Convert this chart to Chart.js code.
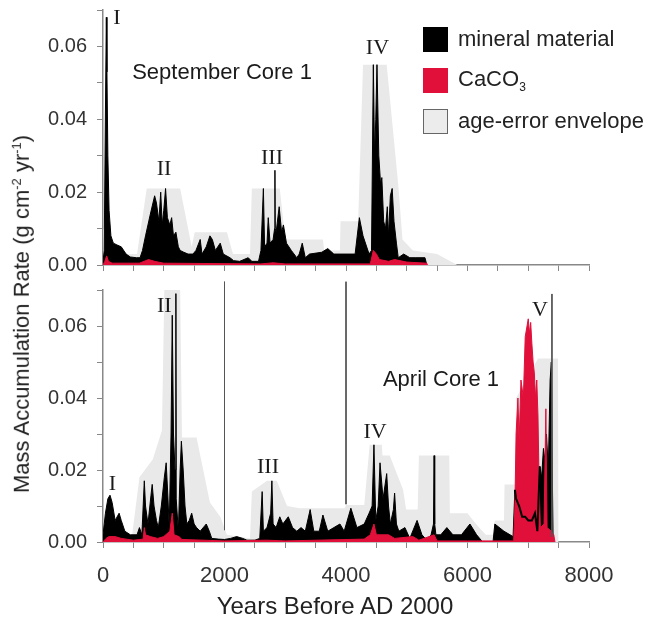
<!DOCTYPE html>
<html>
<head>
<meta charset="utf-8">
<script src="https://cdn.jsdelivr.net/npm/chart.js@4/dist/chart.umd.min.js"></script>
<style>
  body { margin: 0; background: #fff; }
  #wrap { position: relative; width: 645px; height: 617px; overflow: hidden; font-family: 'Liberation Sans', Arial, sans-serif; color: #222; }
  canvas { position: absolute; left: 0; }
  #topChart { top: -10px; }
  #bottomChart { top: 270px; }
  .ytitle { position: absolute; left: 22px; top: 314px; transform: translate(-50%, -50%) rotate(-90deg); white-space: nowrap; font-size: 22px; }
  .xtitle { position: absolute; left: 335px; top: 606px; transform: translate(-50%, -50%); white-space: nowrap; font-size: 24px; }
  .ytitle sup { font-size: 13px; }
  .legend { position: absolute; left: 423px; top: 27px; }
  .legend .row { position: relative; height: 41px; }
  .legend .box { position: absolute; left: 0; top: 0; width: 25px; height: 25px; box-sizing: border-box; }
  .legend .txt { position: absolute; left: 35px; top: 12px; transform: translateY(-50%); font-size: 22px; white-space: nowrap; }
  .legend sub { font-size: 12px; }
</style>
</head>
<body>
<div id="wrap">
  <canvas id="topChart" width="645" height="295"></canvas>
  <canvas id="bottomChart" width="645" height="347"></canvas>
  <div class="ytitle">Mass Accumulation Rate (g cm<sup>-2</sup> yr<sup>-1</sup>)</div>
  <div class="xtitle">Years Before AD 2000</div>
  <div class="legend">
    <div class="row"><div class="box" style="background:#000"></div><div class="txt">mineral material</div></div>
    <div class="row"><div class="box" style="background:#e0103a"></div><div class="txt">CaCO<sub>3</sub></div></div>
    <div class="row"><div class="box" style="background:#ececec;border:1px solid #666"></div><div class="txt">age-error envelope</div></div>
  </div>
</div>
<script>
// September Core 1 - mineral material
const sepMineralYears = [
  0, 20, 40, 55, 65, 80, 100, 130, 170, 230,
  300, 380, 450, 550, 610, 650, 700, 780, 850, 880,
  920, 950, 975, 1000, 1030, 1060, 1100, 1130, 1160, 1200,
  1240, 1270, 1330, 1400, 1480, 1530, 1600, 1630, 1700, 1760,
  1800, 1850, 1930, 1980, 2090, 2150, 2250, 2390, 2450, 2560,
  2600, 2640, 2660, 2700, 2720, 2750, 2800, 2825, 2830, 2835,
  2850, 2900, 2940, 2970, 3020, 3100, 3190, 3230, 3280, 3330,
  3400, 3600, 3700, 3800, 4000, 4150, 4220, 4280, 4380, 4420,
  4450, 4470, 4490, 4510, 4540, 4570, 4590, 4620, 4650, 4680,
  4700, 4730, 4760, 4790, 4830, 4860, 4950, 5050, 5150, 5300,
  5330
];
const sepMineral = [
  0.001, 0.004, 0.042, 0.068, 0.053, 0.03, 0.015, 0.008, 0.006, 0.0055,
  0.005, 0.003, 0.0022, 0.002, 0.002, 0.004, 0.008, 0.014, 0.019, 0.017,
  0.012, 0.02, 0.011, 0.015, 0.021, 0.013, 0.011, 0.013, 0.008, 0.009,
  0.005, 0.004, 0.0035, 0.003, 0.003, 0.004, 0.007, 0.003, 0.005, 0.008,
  0.007, 0.004, 0.006, 0.003, 0.002, 0.0012, 0.001, 0.002, 0.001, 0.001,
  0.004, 0.021, 0.005, 0.006, 0.013, 0.006, 0.007, 0.01, 0.026, 0.01,
  0.009, 0.016, 0.009, 0.011, 0.006, 0.004, 0.002, 0.003, 0.006, 0.002,
  0.003, 0.0035, 0.0045, 0.003, 0.003, 0.003, 0.013, 0.008, 0.003, 0.004,
  0.055, 0.03, 0.04, 0.055, 0.03, 0.022, 0.024, 0.012, 0.01, 0.016,
  0.008, 0.019, 0.021, 0.012, 0.006, 0.002, 0.003, 0.002, 0.002, 0.002,
  0
];

// September Core 1 - CaCO3
const sepCaco3Years = [0, 30, 60, 90, 150, 600, 750, 850, 1000, 2600, 2800, 3000, 4400, 4450, 4500, 4550, 4700, 4800, 5000, 5330, 5340];
const sepCaco3 = [0, 0.001, 0.0025, 0.001, 0.0005, 0.0005, 0.0015, 0.001, 0.0005, 0.0003, 0.0006, 0.0003, 0.0003, 0.004, 0.003, 0.0015, 0.001, 0.0015, 0.0008, 0.0005, 0];

// September Core 1 - age-error envelope
const sepEnvelopeYears = [0, 100, 200, 400, 560, 720, 1270, 1460, 1510, 2040, 2140, 2420, 2450, 2910, 3000, 3620, 3640, 3900, 3910, 4200, 4280, 4670, 4860, 4930, 5100, 5500, 5830];
const sepEnvelope = [0.01, 0.007, 0.006, 0.003, 0.003, 0.021, 0.021, 0.005, 0.009, 0.009, 0.003, 0.003, 0.021, 0.021, 0.007, 0.007, 0.004, 0.004, 0.012, 0.012, 0.055, 0.055, 0.022, 0.007, 0.004, 0.003, 0];

// April Core 1 - mineral material
const aprMineralYears = [
  0, 40, 80, 115, 150, 200, 265, 300, 360, 450,
  560, 600, 640, 680, 700, 740, 790, 810, 840, 880,
  910, 960, 1010, 1040, 1070, 1090, 1120, 1140, 1160, 1185,
  1195, 1200, 1205, 1240, 1270, 1290, 1320, 1350, 1380, 1420,
  1460, 1500, 1540, 1600, 1700, 1750, 1790, 1900, 2000, 2100,
  2200, 2300, 2370, 2500, 2580, 2620, 2640, 2700, 2760, 2780,
  2800, 2850, 2910, 2960, 3050, 3120, 3190, 3260, 3330, 3410,
  3470, 3560, 3620, 3700, 3800, 3900, 3970, 4080, 4180, 4300,
  4380, 4430, 4460, 4490, 4530, 4560, 4610, 4670, 4700, 4730,
  4780, 4800, 4830, 4870, 4970, 5050, 5170, 5250, 5330, 5400,
  5440, 5450, 5460, 5480, 5560, 5660, 5760, 5900, 6040, 6150,
  6250, 6420, 6450, 6600, 6750, 6780, 6800, 6850, 6900, 6950,
  7000, 7060, 7110, 7150, 7190, 7220, 7250, 7280, 7300, 7330,
  7360, 7380, 7395, 7410
];
const aprMineral = [
  0.002, 0.008, 0.012, 0.013, 0.011, 0.006, 0.008, 0.006, 0.003, 0.002,
  0.002, 0.004, 0.002, 0.017, 0.01, 0.005, 0.013, 0.016, 0.01, 0.006,
  0.004, 0.01, 0.018, 0.022, 0.012, 0.004, 0.03, 0.063, 0.03, 0.02,
  0.02, 0.069, 0.012, 0.003, 0.02, 0.028, 0.02, 0.01, 0.005, 0.006,
  0.008, 0.005, 0.004, 0.003, 0.005, 0.003, 0.001, 0.0008, 0.0007, 0.001,
  0.0015, 0.001, 0.0005, 0.0005, 0.001, 0.014, 0.003, 0.004, 0.008, 0.017,
  0.005, 0.004, 0.007, 0.005, 0.007, 0.004, 0.003, 0.004, 0.003, 0.009,
  0.003, 0.003, 0.0075, 0.003, 0.004, 0.005, 0.003, 0.0094, 0.004, 0.005,
  0.008, 0.01, 0.027, 0.006, 0.01, 0.022, 0.012, 0.019, 0.01, 0.005,
  0.009, 0.0136, 0.005, 0.003, 0.004, 0.001, 0.006, 0.002, 0.0005, 0.002,
  0.005, 0.024, 0.005, 0.002, 0.002, 0.004, 0.002, 0.002, 0.005, 0.002,
  0, 0, 0.005, 0.003, 0.0015, 0.0145, 0.012, 0.01, 0.007, 0.007,
  0.006, 0.006, 0.008, 0.003, 0.021, 0.018, 0.026, 0.022, 0.03, 0.02,
  0.045, 0.05, 0.02, 0
];

// April Core 1 - CaCO3
const aprCaco3Years = [
  0, 50, 100, 200, 300, 500, 660, 680, 700, 780,
  900, 1000, 1100, 1140, 1170, 1250, 1300, 2000, 2700, 3000,
  4300, 4400, 4460, 4500, 4700, 4800, 5100, 5200, 5450, 5500,
  6000, 6700, 6760, 6780, 6800, 6830, 6850, 6880, 6920, 6950,
  6980, 7000, 7020, 7040, 7060, 7080, 7100, 7120, 7140, 7160,
  7180, 7200, 7260, 7290, 7310, 7380, 7420, 7440
];
const aprCaco3 = [
  0, 0.001, 0.0015, 0.0015, 0.001, 0.0005, 0.0008, 0.004, 0.002, 0.0015,
  0.001, 0.0015, 0.003, 0.008, 0.002, 0.0015, 0.0007, 0.0003, 0.0005, 0.0003,
  0.0008, 0.002, 0.005, 0.002, 0.002, 0.001, 0.0015, 0.0005, 0.002, 0.0003,
  0.0003, 0.0003, 0.0003, 0.01, 0.03, 0.04, 0.028, 0.045, 0.04, 0.057,
  0.06, 0.062, 0.058, 0.061, 0.055, 0.05, 0.047, 0.04, 0.045, 0.035,
  0.015, 0.004, 0.005, 0.037, 0.004, 0.003, 0.002, 0
];

// April Core 1 - age-error envelope
const aprEnvelopeYears = [0, 480, 600, 820, 970, 1010, 1270, 1300, 1540, 1760, 1930, 2040, 2420, 2450, 2700, 2860, 3030, 3240, 3980, 4000, 4300, 4390, 4590, 4600, 4720, 4940, 4990, 5180, 5200, 5700, 5710, 6000, 6140, 6300, 6420, 6450, 6600, 6610, 6780, 6800, 7160, 7490, 7500];
const aprEnvelope = [0.002, 0.002, 0.018, 0.023, 0.031, 0.07, 0.07, 0.029, 0.029, 0.011, 0.007, 0.002, 0.001, 0.014, 0.017, 0.017, 0.01, 0.0094, 0.0094, 0.0103, 0.0103, 0.027, 0.027, 0.024, 0.024, 0.0145, 0.009, 0.009, 0.024, 0.024, 0.008, 0.008, 0.005, 0.002, 0.002, 0.006, 0.006, 0.016, 0.016, 0.04, 0.051, 0.051, 0];

// vertical marker lines in the April panel
const markerYears = [2000, 4000, 7390];
const markerTops = [0.0723, 0.0723, 0.0689];
const markerBottoms = [0.0033, 0.0105, 0.0014];

// axis ticks
const xMin = 0, xMax = 8000, xStep = 500, xLabelEvery = 2000;
const yMin = 0, yMax = 0.07, yStep = 0.01;

const BLACK = '#000000';
const RED = '#e0103a';
const GREY = '#e9e9e9';

Chart.defaults.font.family = "'Liberation Sans', Arial, sans-serif";
Chart.defaults.color = '#333';

function toPoints(xs, ys) {
  return xs.map((x, i) => ({ x: x, y: ys[i] }));
}

function markerPoints() {
  const pts = [];
  markerYears.forEach((yr, i) => {
    pts.push({ x: yr, y: markerTops[i] });
    pts.push({ x: yr, y: markerBottoms[i] });
    pts.push({ x: yr, y: null });
  });
  return pts;
}

function areaSet(label, pts, color, order, width) {
  return {
    label: label, data: pts, order: order,
    backgroundColor: color, borderColor: color, borderWidth: width,
    fill: 'origin', pointRadius: 0, tension: 0
  };
}

// text written on the panels
function labelPlugin(items) {
  return {
    id: 'panelText',
    afterDatasetsDraw(chart) {
      const ctx = chart.ctx;
      const x = chart.scales.x, y = chart.scales.y;
      ctx.save();
      ctx.textAlign = 'center';
      ctx.textBaseline = 'middle';
      ctx.fillStyle = '#1a1a1a';
      items.forEach(it => {
        ctx.font = it.serif ? "22px 'Liberation Serif', 'Times New Roman', serif" : "22px 'Liberation Sans', Arial, sans-serif";
        ctx.fillText(it.text, x.getPixelForValue(it.year), y.getPixelForValue(it.value));
      });
      ctx.restore();
    }
  };
}

function scalesFor(showXLabels, xHeight) {
  return {
    x: {
      type: 'linear', min: xMin, max: xMax,
      ticks: {
        stepSize: xStep, autoSkip: false, maxRotation: 0, padding: 15,
        font: { size: 22 }, color: '#333',
        callback: v => (showXLabels && v % xLabelEvery === 0) ? String(v) : ''
      },
      grid: { drawOnChartArea: false, drawTicks: true, tickLength: 6, color: '#888' },
      border: { color: '#888', width: 1.5 },
      afterFit: s => { s.height = xHeight; }
    },
    y: {
      min: yMin, max: yMax,
      ticks: {
        stepSize: yStep, padding: 10,
        font: { size: 20, lineHeight: 1 }, color: '#333',
        callback: v => {
          const k = Math.round(v * 100);
          return (k % 2 === 0 && k < 7) ? (k / 100).toFixed(2) : '';
        }
      },
      grid: { drawOnChartArea: false, drawTicks: true, tickLength: 6, color: '#888' },
      border: { color: '#888', width: 1.5 },
      afterFit: s => { s.width = 103; }
    }
  };
}

const baseOptions = {
  responsive: false,
  animation: false,
  events: [],
  plugins: { legend: { display: false }, tooltip: { enabled: false } }
};

// top panel
new Chart(document.getElementById('topChart'), {
  type: 'line',
  data: {
    datasets: [
      areaSet('age-error envelope', toPoints(sepEnvelopeYears, sepEnvelope), GREY, 4, 0),
      areaSet('mineral material', toPoints(sepMineralYears, sepMineral), BLACK, 3, 1),
      areaSet('CaCO3', toPoints(sepCaco3Years, sepCaco3), RED, 2, 1)
    ]
  },
  options: Object.assign({}, baseOptions, {
    layout: { padding: { top: 0, right: 56, left: 0, bottom: 0 } },
    scales: scalesFor(false, 16)
  }),
  plugins: [labelPlugin([
    { text: 'I', year: 230, value: 0.0678, serif: true },
    { text: 'II', year: 1004, value: 0.0264, serif: true },
    { text: 'III', year: 2782, value: 0.0292, serif: true },
    { text: 'IV', year: 4518, value: 0.0595, serif: true },
    { text: 'September Core 1', year: 1960, value: 0.0528 }
  ])]
});

// bottom panel
const aprMineralPts = toPoints(aprMineralYears, aprMineral);
new Chart(document.getElementById('bottomChart'), {
  type: 'line',
  data: {
    datasets: [
      areaSet('age-error envelope', toPoints(aprEnvelopeYears, aprEnvelope), GREY, 5, 0),
      areaSet('mineral material', aprMineralPts, BLACK, 4, 1),
      areaSet('CaCO3', toPoints(aprCaco3Years, aprCaco3), RED, 3, 1),
      {
        label: 'mineral line', data: aprMineralPts.filter(p => p.x >= 6770 && p.x <= 7200), order: 2,
        borderColor: BLACK, borderWidth: 2, fill: false, pointRadius: 0, tension: 0
      },
      {
        label: 'markers', data: markerPoints(), order: 1, clip: false,
        borderColor: '#555', borderWidth: 1, fill: false, pointRadius: 0, spanGaps: false
      }
    ]
  },
  options: Object.assign({}, baseOptions, {
    layout: { padding: { top: 20, right: 56, left: 0, bottom: 0 } },
    scales: scalesFor(true, 75)
  }),
  plugins: [labelPlugin([
    { text: 'I', year: 156, value: 0.0161, serif: true },
    { text: 'II', year: 1008, value: 0.0656, serif: true },
    { text: 'III', year: 2716, value: 0.0209, serif: true },
    { text: 'IV', year: 4478, value: 0.0306, serif: true },
    { text: 'V', year: 7193, value: 0.0645, serif: true },
    { text: 'April Core 1', year: 5564, value: 0.045 }
  ])]
});
</script>
</body>
</html>
